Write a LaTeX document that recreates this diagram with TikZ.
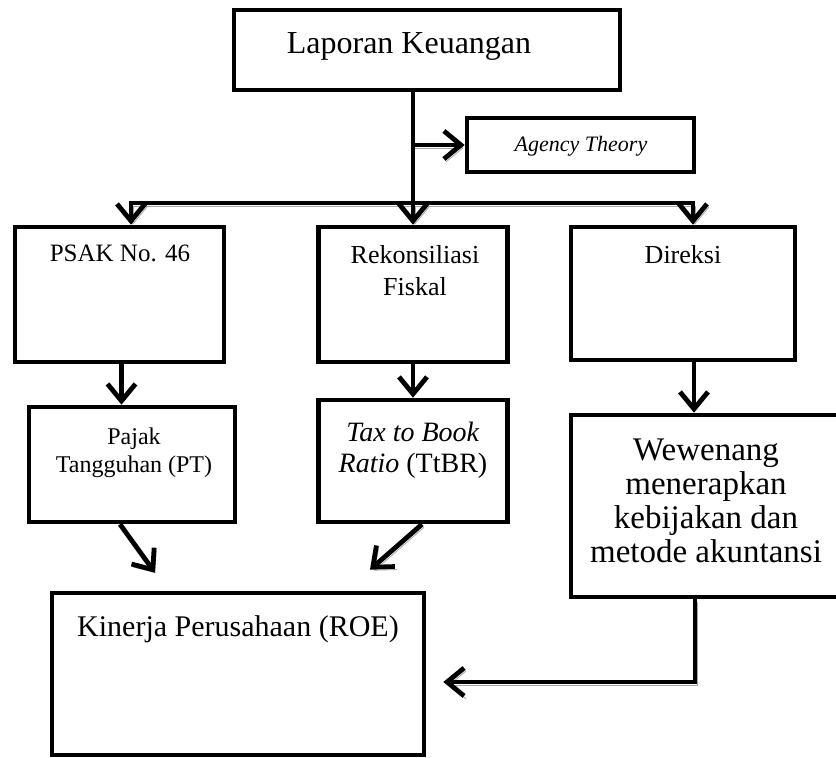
\documentclass[tikz,border=0pt]{standalone}
\usepackage{fontspec}
\setmainfont{Liberation Serif}
\usetikzlibrary{arrows.meta}

\begin{document}
\begin{tikzpicture}[x=0.5pt, y=-0.5pt,
  kotak/.style 2 args={draw, line width=2.3pt, minimum width=#1, minimum height=#2, inner sep=0pt},
  teks/.style={anchor=north, inner sep=0pt, align=center},
  garis/.style={line width=2.4pt},
  panah/.style={garis, -{Straight Barb[length=8.5pt, width=14pt]}},
  bayang/.style={preaction={draw=gray!70, transform canvas={shift={(1pt,-1.5pt)}}}}]

\useasboundingbox (0,0) rectangle (836,758);

% kotak
\node[kotak={193pt}{40pt}] (lap) at (427,50) {};
\node[teks, font=\fontsize{16}{19}\selectfont] (laptxt) at (409,32) {Laporan Keuangan};
\node[kotak={113.5pt}{27pt}] (agency) at (580.5,145) {};
\node[teks, font=\fontsize{11}{13}\selectfont\itshape] (agencytxt) at (581,136) {Agency Theory};

\node[kotak={104.5pt}{67.5pt}] (psak) at (119.5,294.5) {};
\node[teks, font=\fontsize{12.5}{15}\selectfont] (psaktxt) at (120,245) {PSAK No. 46};
\node[kotak={94.5pt}{67.5pt}] (rek) at (413,294.5) {};
\node[teks, font=\fontsize{13}{16}\selectfont] (rektxt) at (415,245) {Rekonsiliasi\\Fiskal};
\node[kotak={112pt}{66.5pt}] (dir) at (683,293.5) {};
\node[teks, font=\fontsize{13}{16}\selectfont] (dirtxt) at (683,245) {Direksi};

\node[kotak={103pt}{57.5pt}] (pt) at (132,464.5) {};
\node[teks, font=\fontsize{12}{14}\selectfont] (pttxt) at (134,427) {Pajak\\Tangguhan (PT)};
\node[kotak={94.5pt}{61pt}] (ttbr) at (413,461) {};
\node[teks, font=\fontsize{14}{15.5}\selectfont] (ttbrtxt) at (413,422) {\textit{Tax to Book}\\\textit{Ratio} (TtBR)};
\node[kotak={135pt}{91pt}] (wew) at (706,506) {};
\node[teks, font=\fontsize{16.5}{17}\selectfont] (wewtxt) at (706,438) {Wewenang\\menerapkan\\kebijakan dan\\metode akuntansi};

\node[kotak={186pt}{81pt}] (kin) at (238,674) {};
\node[teks, font=\fontsize{15}{18}\selectfont] (kintxt) at (238,615) {Kinerja Perusahaan (ROE)};

% panah
\coordinate (bl) at (131,203);
\coordinate (br) at (693,203);

\draw[garis] (lap.south -| rek.north) -- (bl -| rek.north);
\draw[panah, bayang] (agency.west -| rek.north) -- (agency.west);
\draw[panah, bayang] (bl -| rek.north) -- (bl) -- (bl |- psak.north);
\draw[panah, bayang] (bl -| rek.north) -- (br) -- (br |- dir.north);
\draw[panah, bayang] (bl -| rek.north) -- (rek.north);

\draw[panah] ([xshift=1pt]psak.south) -- ([xshift=1pt]psak.south |- pt.north);
\draw[panah] (rek.south) -- (ttbr.north);
\draw[panah] ([xshift=5.5pt]dir.south) -- ([xshift=5.5pt]dir.south |- wew.north);

\draw[panah, bayang] ([xshift=-6pt]pt.south) -- ([xshift=-41.5pt, yshift=9pt]kin.north);
\draw[panah, bayang] ([xshift=4.5pt]ttbr.south) -- ([xshift=66pt, yshift=10.5pt]kin.north);
\draw[panah, bayang, shorten >=8.5pt] ([xshift=-5.5pt]wew.south) |- ([yshift=-4pt]kin.east);
\end{tikzpicture}
\end{document}
